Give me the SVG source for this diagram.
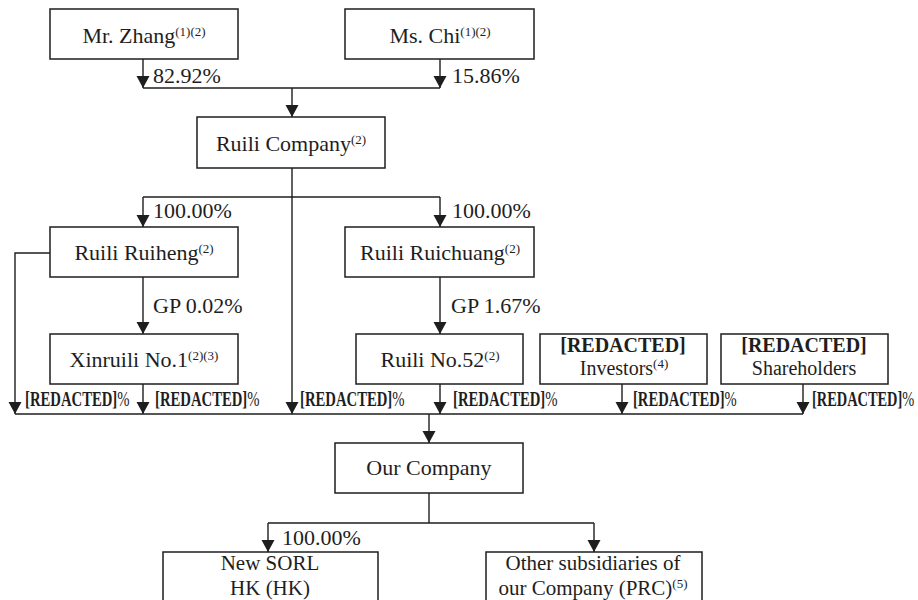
<svg xmlns="http://www.w3.org/2000/svg" width="918" height="600" viewBox="0 0 918 600">
<defs>
<marker id="ah" markerUnits="userSpaceOnUse" viewBox="0 -7 12 14" refX="12" refY="0" markerWidth="12" markerHeight="14" orient="auto">
<path d="M0,-6.5 L12,0 L0,6.5 z" fill="#1e1e1e"/>
</marker>
<style>
.box{fill:#fff;stroke:#1e1e1e;stroke-width:1.5}
.t{font-family:"Liberation Serif","Times New Roman",serif;font-size:22px;fill:#1e1e1e}
.c{text-anchor:middle}
.sup{font-size:13px}
.ln{fill:none;stroke:#1e1e1e;stroke-width:1.4}
.ar{fill:none;stroke:#1e1e1e;stroke-width:1.4;marker-end:url(#ah)}
.rd{font-family:"Liberation Serif","Times New Roman",serif;font-size:20px;fill:#1e1e1e}
.b{font-weight:bold}
.s21{font-size:21px}
</style>
</defs>
<rect width="918" height="600" fill="#fff"/>
<g id="connectors">
<path class="ar" d="M143,59 V88"/>
<path class="ar" d="M440,59 V88"/>
<path class="ln" d="M143,88 H440"/>
<path class="ar" d="M292,88 V117"/>
<path class="ln" d="M143,197 H440"/>
<path class="ar" d="M143,197 V227"/>
<path class="ar" d="M440,197 V227"/>
<path class="ar" d="M292,168 V414"/>
<path class="ar" d="M143,277 V334"/>
<path class="ar" d="M50,253 H15 V414"/>
<path class="ar" d="M143,384 V414"/>
<path class="ar" d="M440,277 V334"/>
<path class="ar" d="M440,384 V414"/>
<path class="ar" d="M622,384 V414"/>
<path class="ar" d="M803,384 V414"/>
<path class="ln" d="M15,414 H803"/>
<path class="ar" d="M429,414 V443"/>
<path class="ln" d="M429,493 V523 M268,523 H594"/>
<path class="ar" d="M268,523 V552"/>
<path class="ar" d="M594,523 V552"/>
<text class="t" x="153" y="83">82.92%</text>
<text class="t" x="452" y="83">15.86%</text>
<text class="t" x="153" y="218">100.00%</text>
<text class="t" x="452" y="218">100.00%</text>
<text class="t" x="153" y="313">GP 0.02%</text>
<text class="t" x="451" y="313">GP 1.67%</text>
<text class="rd" transform="translate(25,406) scale(0.735,1)"><tspan class="b">[REDACTED]</tspan>%</text>
<text class="rd" transform="translate(155,406) scale(0.735,1)"><tspan class="b">[REDACTED]</tspan>%</text>
<text class="rd" transform="translate(300,406) scale(0.735,1)"><tspan class="b">[REDACTED]</tspan>%</text>
<text class="rd" transform="translate(453,406) scale(0.735,1)"><tspan class="b">[REDACTED]</tspan>%</text>
<text class="rd" transform="translate(633,406) scale(0.73,1)"><tspan class="b">[REDACTED]</tspan>%</text>
<text class="rd" transform="translate(812,406) scale(0.72,1)"><tspan class="b">[REDACTED]</tspan>%</text>
<text class="t" x="282" y="545">100.00%</text>
</g>
<g id="zhang"><rect class="box" x="50" y="9" width="188" height="50"/><text class="t c" x="144" y="43">Mr. Zhang<tspan class="sup" dy="-7">(1)(2)</tspan></text></g>
<g id="chi"><rect class="box" x="345" y="9" width="189" height="50"/><text class="t c" x="440" y="43">Ms. Chi<tspan class="sup" dy="-7">(1)(2)</tspan></text></g>
<g id="ruili-company"><rect class="box" x="197" y="117" width="188" height="51"/><text class="t c" x="291" y="151">Ruili Company<tspan class="sup" dy="-7">(2)</tspan></text></g>
<g id="ruiheng"><rect class="box" x="50" y="227" width="188" height="50"/><text class="t c" x="144" y="260">Ruili Ruiheng<tspan class="sup" dy="-7">(2)</tspan></text></g>
<g id="ruichuang"><rect class="box" x="345" y="227" width="189" height="50"/><text class="t c" x="440" y="260">Ruili Ruichuang<tspan class="sup" dy="-7">(2)</tspan></text></g>
<g id="xinruili"><rect class="box" x="50" y="334" width="188" height="50"/><text class="t c" x="144" y="367">Xinruili No.1<tspan class="sup" dy="-7">(2)(3)</tspan></text></g>
<g id="ruili52"><rect class="box" x="356" y="334" width="167" height="50"/><text class="t c" x="440" y="367">Ruili No.52<tspan class="sup" dy="-7">(2)</tspan></text></g>
<g id="investors"><rect class="box" x="540" y="334" width="167" height="50"/><text class="t c" style="font-size:20px"><tspan class="b" x="623" y="352">[REDACTED]</tspan><tspan x="624" y="375">Investors</tspan><tspan class="sup" dy="-7">(4)</tspan></text></g>
<g id="shareholders"><rect class="box" x="721" y="334" width="167" height="50"/><text class="t c" style="font-size:20px"><tspan class="b" x="804" y="352">[REDACTED]</tspan><tspan x="804" y="375">Shareholders</tspan></text></g>
<g id="our-company"><rect class="box" x="335" y="443" width="188" height="50"/><text class="t c" x="429" y="475">Our Company</text></g>
<g id="new-sorl"><rect class="box" x="163" y="552" width="215" height="60"/><text class="t c s21" x="270" y="570">New SORL</text><text class="t c s21" x="270" y="595">HK (HK)</text></g>
<g id="other-subs"><rect class="box" x="486" y="552" width="216" height="60"/><text class="t c s21" x="593" y="570">Other subsidiaries of</text><text class="t c s21" x="593" y="595">our Company (PRC)<tspan class="sup" dy="-7">(5)</tspan></text></g>
</svg>
